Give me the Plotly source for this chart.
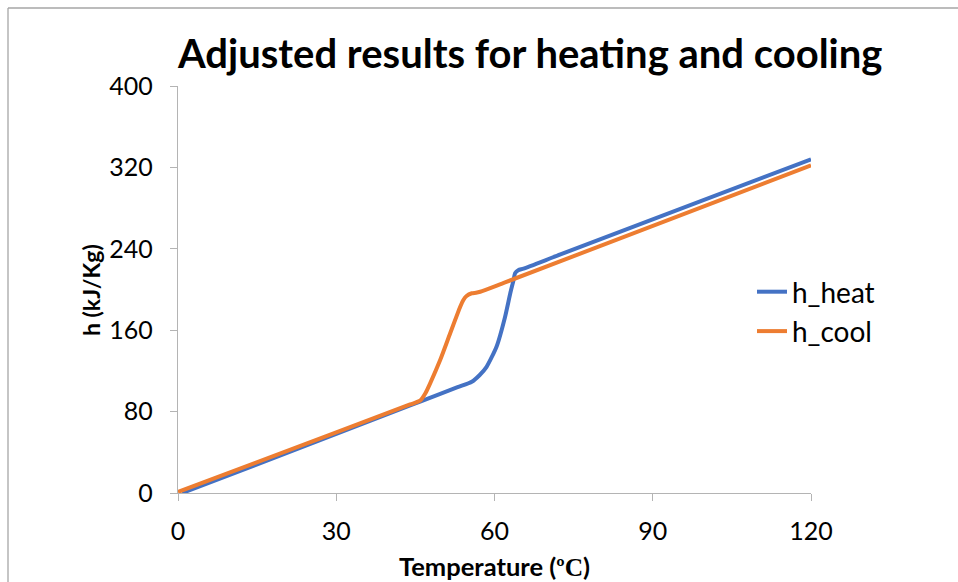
import plotly.graph_objects as go

# Data
heat_T = [0.8, 30.0, 44.0, 45.9, 53.0, 55.7, 57.2, 58.5, 60.4, 62.0, 63.0, 63.6, 63.9, 64.5, 65.5, 72.5, 120]
heat_h = [0.0, 58.0, 86.0, 89.8, 104.0, 109.4, 116.0, 124.0, 144.0, 173.0, 196.5, 209.0, 216.0, 219.0, 220.5, 234.5, 328.0]

cool_T = [0.0, 30.0, 44.0, 45.9, 46.9, 47.8, 49.7, 51.6, 53.5, 54.1, 54.7, 55.7, 56.5, 57.3, 62.0, 120]
cool_h = [1.0, 59.5, 87.0, 90.7, 98.0, 107.8, 130.7, 157.0, 183.0, 189.7, 193.6, 196.3, 196.8, 197.8, 207.0, 322.0]

x_ticks = [0, 30, 60, 90, 120]
y_ticks = [0, 80, 160, 240, 320, 400]

W, H = 958, 582
L, R, T, B = 178, 147, 86, 89
pw, ph = W - L - R, H - T - B

def px(p):
    return (p - L) / pw

def py(p):
    return (H - B - p) / ph

FONT = "Lato"
AXIS_COL = "#B4B4B4"

fig = go.Figure()
fig.add_trace(go.Scatter(x=heat_T, y=heat_h, mode="lines", name="h_heat", legendgroup="a",
                         line=dict(color="#4472C4", width=4, shape="spline", smoothing=0.6),
                         cliponaxis=False))
fig.add_trace(go.Scatter(x=cool_T, y=cool_h, mode="lines", name="h_cool", legendgroup="b",
                         line=dict(color="#ED7D31", width=4, shape="spline", smoothing=0.6),
                         cliponaxis=False))

fig.update_layout(
    width=W, height=H,
    margin=dict(l=L, r=R, t=T, b=B, pad=0),
    paper_bgcolor="white", plot_bgcolor="white",
    font=dict(family=FONT, color="#000000"),
    showlegend=True,
    legend=dict(x=px(752), y=py(267), xanchor="left", yanchor="top",
                font=dict(family=FONT, size=28, color="#000000"),
                bgcolor="rgba(0,0,0,0)", tracegroupgap=0,
                itemwidth=30),
    xaxis=dict(range=[0, 120], tickvals=x_ticks, ticktext=[str(v) for v in x_ticks],
               showgrid=False, zeroline=False, showline=True, linecolor=AXIS_COL,
               linewidth=1.3, ticks="outside", ticklen=7, tickcolor=AXIS_COL,
               tickwidth=1.3, tickfont=dict(family=FONT, size=25, color="#000000"),
               ticklabelstandoff=9),
    yaxis=dict(range=[0, 400], tickvals=y_ticks, ticktext=[str(v) for v in y_ticks],
               showgrid=False, zeroline=False, showline=True, linecolor=AXIS_COL,
               linewidth=1.3, ticks="outside", ticklen=7, tickcolor=AXIS_COL,
               tickwidth=1.3, tickfont=dict(family=FONT, size=25, color="#000000"),
               ticklabelstandoff=12),
)

fig.add_annotation(text="<b>Adjusted results for heating and cooling</b>",
                   xref="paper", yref="paper", x=px(529), y=py(53),
                   xanchor="center", yanchor="middle", showarrow=False,
                   font=dict(family=FONT, size=40, color="#000000"))
fig.add_annotation(text="<b>Temperature (<span style='font-family:Liberation Serif'>ºC</span>)</b>",
                   xref="paper", yref="paper", x=px(494), y=py(566),
                   xanchor="center", yanchor="middle", showarrow=False,
                   font=dict(family=FONT, size=25.5, color="#000000"))
fig.add_annotation(text="<b>h (kJ/Kg)</b>",
                   xref="paper", yref="paper", x=px(91), y=py(290),
                   xanchor="center", yanchor="middle", showarrow=False, textangle=-90,
                   font=dict(family=FONT, size=23, color="#000000"))

# chart frame (top and left edges visible)
fig.add_shape(type="line", xref="paper", yref="paper", x0=px(8), x1=px(960), y0=py(8), y1=py(8),
              line=dict(color="#A6A6A6", width=1.3))
fig.add_shape(type="line", xref="paper", yref="paper", x0=px(8), x1=px(8), y0=py(8), y1=py(585),
              line=dict(color="#A6A6A6", width=1.3))

fig.write_html("out.html")
